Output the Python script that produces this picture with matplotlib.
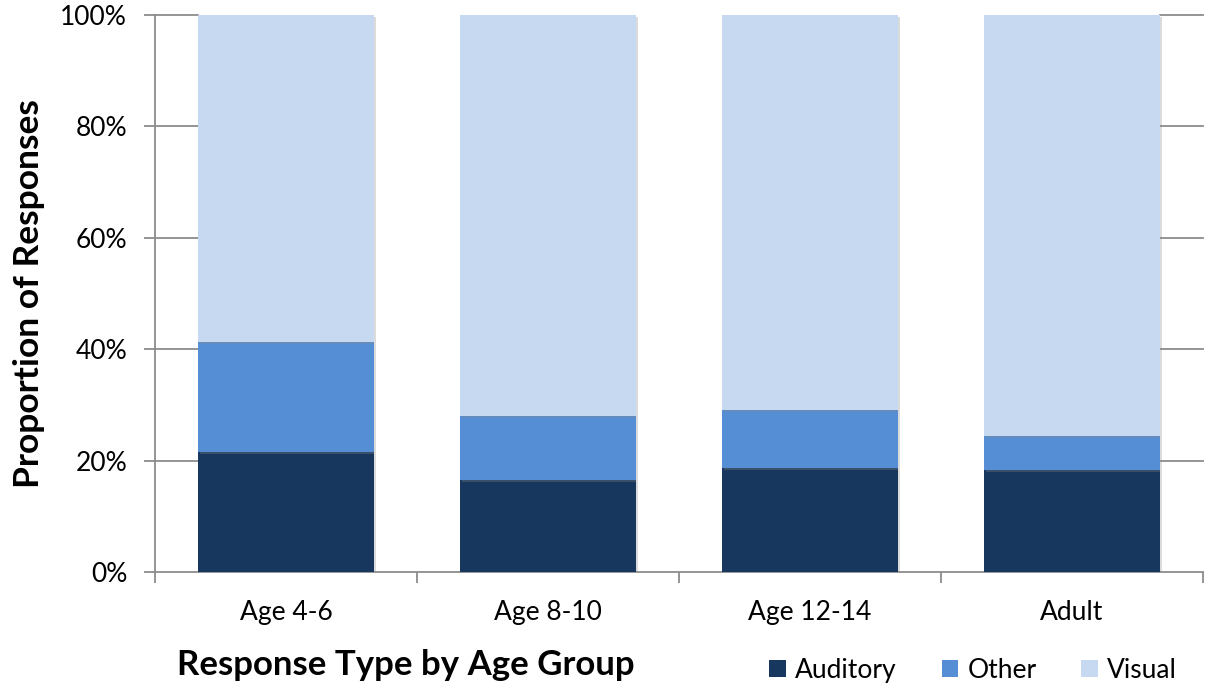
import numpy as np
import matplotlib
matplotlib.use("Agg")
import matplotlib.pyplot as plt
from matplotlib.patches import Patch
import matplotlib.patheffects as pe

plt.rcParams['font.family'] = ['Lato', 'DejaVu Sans']

# data (percent of responses)
groups = ["Age 4-6", "Age 8-10", "Age 12-14", "Adult"]
auditory = [21.6, 16.6, 18.6, 18.3]
other = [19.7, 11.4, 10.5, 6.1]
visual = [100 - a - o for a, o in zip(auditory, other)]
series_names = ["Auditory", "Other", "Visual"]
colors = ["#17375E", "#558ED5", "#C6D9F1"]

fig = plt.figure(figsize=(12.06, 6.88), dpi=100)
ax = fig.add_axes([0.1285, 0.1686, 0.869, 0.8096])

x = np.arange(len(groups))
width = 0.67
bottom = np.zeros(len(groups))
shadow = [pe.SimplePatchShadow(offset=(1.5, -1.5), shadow_rgbFace='#888888', alpha=0.3), pe.Normal()]
for vals, name, c in zip([auditory, other, visual], series_names, colors):
    bars = ax.bar(x, vals, width, bottom=bottom, color=c, label=name, zorder=3)
    for b in bars:
        b.set_path_effects(shadow)
    bottom += np.array(vals)

ax.set_xlim(-0.5, len(groups) - 0.5)
ax.set_ylim(0, 100)

# gridlines only visible in the outer margins
gc = "#8c8c8c"
for yv in range(20, 101, 20):
    ax.plot([-0.5, x[0] - width / 2], [yv, yv], color=gc, lw=1.3, zorder=1, clip_on=False)
    ax.plot([x[-1] + width / 2, len(groups) - 0.5], [yv, yv], color=gc, lw=1.3, zorder=1, clip_on=False)

ax.set_yticks(range(0, 101, 20))
ax.set_yticklabels([f"{v}%" for v in range(0, 101, 20)], fontsize=19)
ax.set_xticks(x)
ax.set_xticklabels(groups, fontsize=19)
ax.set_xticks(np.arange(-0.5, len(groups), 1), minor=True)
ax.tick_params(axis='x', which='major', length=0, pad=20)
ax.tick_params(axis='x', which='minor', length=8, color=gc, width=1.3)
ax.tick_params(axis='y', length=8, color=gc, width=1.3, pad=12)

for s in ["top", "right"]:
    ax.spines[s].set_visible(False)
for s in ["left", "bottom"]:
    ax.spines[s].set_color(gc)
    ax.spines[s].set_linewidth(1.3)

ax.set_ylabel("Proportion of Responses", fontsize=25.5, fontweight='bold')
ax.yaxis.set_label_coords(-0.105, 0.5)
fig.text(0.3367, 0.033, "Response Type by Age Group", fontsize=25, fontweight='bold',
         ha='center', va='center')

handles = [Patch(facecolor=c, label=n) for c, n in zip(colors, series_names)]
fig.legend(handles=handles, loc='center', bbox_to_anchor=(0.807, 0.026), ncol=3,
           frameon=False, fontsize=19, handlelength=0.62, handleheight=0.62,
           handletextpad=0.36, columnspacing=1.7)

fig.savefig("out.png", dpi=100)
